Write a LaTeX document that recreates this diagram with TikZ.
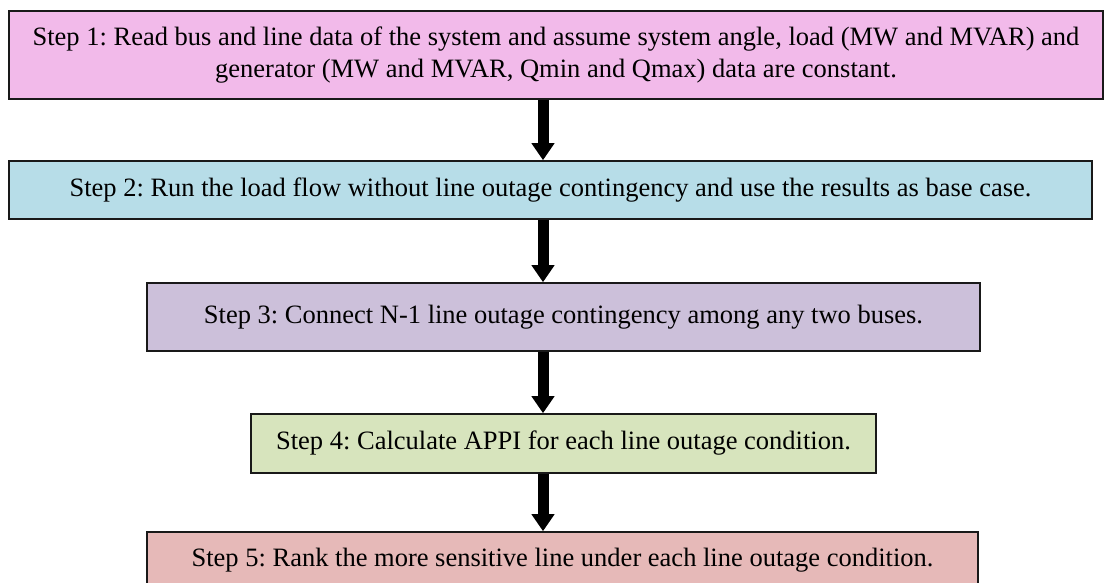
\documentclass[tikz,border=0pt]{standalone}
\usepackage{fontspec}
\setmainfont{Liberation Serif}
\usetikzlibrary{arrows.meta}
\definecolor{cA}{RGB}{242,186,234}
\definecolor{cB}{RGB}{183,221,232}
\definecolor{cC}{RGB}{204,192,218}
\definecolor{cD}{RGB}{215,228,189}
\definecolor{cE}{RGB}{230,185,184}
\tikzset{
  stepbox/.style={draw=black!90, line width=1.6pt, inner sep=0pt, align=center,
    font=\frenchspacing\fontsize{26.5}{32}\selectfont},
  flow/.style={line width=11pt, -{Triangle[width=22pt,length=17pt]}}
}
\begin{document}
\begin{tikzpicture}[x=1pt,y=-1pt]
\useasboundingbox (0,0) rectangle (1104,583);
\clip (0,0) rectangle (1104,583);
\fill[white] (0,0) rectangle (1104,583);
\node[stepbox, fill=cA, minimum width=1094pt, minimum height=88pt] (s1) at (556,55)
  {Step 1: Read bus and line data of the system and assume system angle, load (MW and MVAR) and\\
   generator (MW and MVAR, Qmin and Qmax) data are constant.};
\node[stepbox, fill=cB, minimum width=1083pt, minimum height=58pt] (s2) at (550.5,190)
  {Step 2: Run the load flow without line outage contingency and use the results as base case.};
\node[stepbox, fill=cC, minimum width=833pt, minimum height=68pt] (s3) at (563.5,317)
  {Step 3: Connect N-1 line outage contingency among any two buses.};
\node[stepbox, fill=cD, minimum width=625pt, minimum height=59pt] (s4) at (563.5,443.5)
  {Step 4: Calculate APPI for each line outage condition.};
\node[stepbox, fill=cE, minimum width=831pt, minimum height=56pt] (s5) at (562.5,560)
  {Step 5: Rank the more sensitive line under each line outage condition.};
\coordinate (ax) at (543,0);
\draw[flow] (s1.south -| ax) -- (s2.north -| ax);
\draw[flow] (s2.south -| ax) -- (s3.north -| ax);
\draw[flow] (s3.south -| ax) -- (s4.north -| ax);
\draw[flow] (s4.south -| ax) -- (s5.north -| ax);
\end{tikzpicture}
\end{document}
